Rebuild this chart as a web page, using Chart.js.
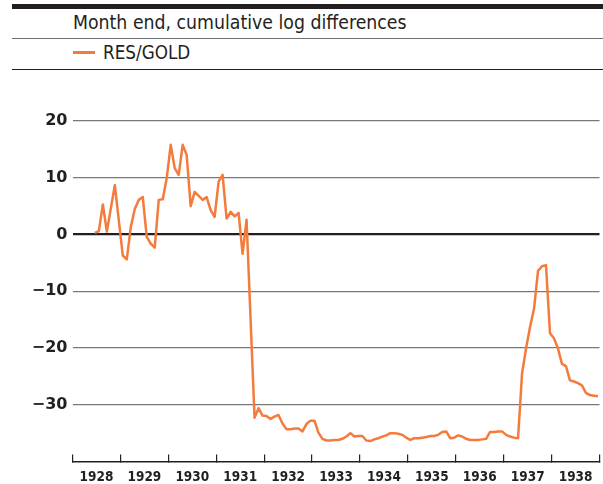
<!DOCTYPE html>
<html>
<head>
<meta charset="utf-8">
<script src="https://cdn.jsdelivr.net/npm/chart.js@4/dist/chart.umd.min.js"></script>
<style>
html, body { margin: 0; padding: 0; background: #fff; }
#wrap { position: relative; width: 603px; height: 484px; overflow: hidden;
  font-family: "DejaVu Sans Condensed", "Liberation Sans Narrow", "DejaVu Sans", sans-serif; color: #231f20; }
.bar { position: absolute; left: 12px; right: 0; top: 4px; height: 5px; background: #231f20; }
.rule1 { position: absolute; left: 12px; right: 0; top: 38px; height: 1px; background: #6d6e71; }
.rule2 { position: absolute; left: 12px; right: 0; top: 69px; height: 1px; background: #231f20; }
.title { position: absolute; left: 73px; top: 12px; font-size: 19.3px; line-height: 22px; white-space: nowrap; }
.swatch { position: absolute; left: 73px; top: 51px; width: 22px; height: 2.5px; background: #f47b3b; }
.legtext { position: absolute; left: 103px; top: 42px; font-size: 18.7px; line-height: 22px; white-space: nowrap; }
#chart { position: absolute; left: 0; top: 0; }
</style>
</head>
<body>
<div id="wrap">
  <div class="bar"></div>
  <div class="title">Month end, cumulative log differences</div>
  <div class="rule1"></div>
  <div class="swatch"></div>
  <div class="legtext">RES/GOLD</div>
  <div class="rule2"></div>
  <canvas id="chart" width="603" height="484"></canvas>
</div>
<script>
// monthly values, Jan..Dec (1928 starts in June); null = no reading
const startYear = 1928
const firstMonth1928 = 5
const res1928 = [0.3, 0.6, 5.3, 0.5, 4.6, 8.7, 2.5]
const res1929 = [-3.7, -4.4, 1.3, 4.5, 6.1, 6.6, -0.4, -1.6, -2.3, 6.1, 6.2, 9.9]
const res1930 = [15.8, 11.7, 10.5, 15.8, 14.0, 5.0, 7.5, 6.8, 6.1, 6.6, 4.3, 3.1]
const res1931 = [9.3, 10.5, 2.8, 4.0, 3.2, 3.8, -3.4, 2.6, null, -32.3, -30.6, -31.9]
const res1932 = [-32.0, -32.5, -32.1, -31.8, -33.3, -34.3, -34.3, -34.2, -34.2, -34.7, -33.4, -32.8]
const res1933 = [-32.8, -34.9, -36.0, -36.3, -36.3, -36.2, -36.2, -36.0, -35.6, -35.0, -35.6, -35.5]
const res1934 = [-35.5, -36.3, -36.4, -36.1, -35.9, -35.6, -35.4, -35.0, -35.0, -35.1, -35.3, -35.8]
const res1935 = [-36.2, -35.9, -35.9, -35.8, -35.7, -35.5, -35.5, -35.3, -34.8, -34.7, -35.9, -35.8]
const res1936 = [-35.4, -35.6, -36.0, -36.2, -36.2, -36.2, -36.1, -36.0, -34.8, -34.8, -34.7, -34.7]
const res1937 = [-35.3, -35.6, -35.8, -35.9, -24.5, -20.1, -16.3, -13.1, -6.4, -5.6, -5.4, -17.4]
const res1938 = [-18.3, -20.1, -22.8, -23.2, -25.7, -25.9, -26.2, -26.6, -27.9, -28.3, -28.4, -28.5]

const yearly = [res1928, res1929, res1930, res1931, res1932, res1933, res1934, res1935, res1936, res1937, res1938]
const yTicks = [20, 10, 0, -10, -20, -30]
const xMin = 1928
const xMax = 1939

let points = []
for (let i = 0; i < yearly.length; i++) {
    let first = i === 0 ? firstMonth1928 : 0
    for (let j = 0; j < yearly[i].length; j++) {
        points.push({ x: startYear + i + (first + j + 0.6) / 12, y: yearly[i][j] })
    }
}

const ink = '#231f20'

new Chart(document.getElementById('chart').getContext('2d'), {
    type: 'line',
    data: {
        datasets: [{
            label: 'RES/GOLD',
            data: points,
            borderColor: '#f47b3b',
            borderWidth: 2.5,
            pointRadius: 0,
            tension: 0,
            spanGaps: true,
            borderJoinStyle: 'round'
        }]
    },
    options: {
        responsive: false,
        animation: false,
        layout: { padding: { top: 121, right: 3.5, left: 0, bottom: 0 } },
        plugins: { legend: { display: false }, tooltip: { enabled: false } },
        scales: {
            x: {
                type: 'linear',
                min: xMin,
                max: xMax,
                afterFit: s => {
                    s.height = 22.5
                    s.paddingLeft = 0
                    s.paddingRight = 0
                },
                afterBuildTicks: s => {
                    let t = []
                    for (let v = xMin; v <= xMax; v++) t.push({ value: v })
                    s.ticks = t
                },
                ticks: {
                    callback: v => v < xMax ? String(v) : '',
                    labelOffset: 24,
                    padding: 15,
                    maxRotation: 0,
                    autoSkip: false,
                    color: ink,
                    font: { family: '"DejaVu Sans Condensed", "DejaVu Sans"', weight: 'bold', size: 13.5 }
                },
                grid: { drawOnChartArea: false, drawTicks: true, tickLength: -7, color: ink, lineWidth: 1.2 },
                border: { display: true, color: ink, width: 1.5 }
            },
            y: {
                min: -40,
                max: 20,
                afterFit: s => { s.width = 72.5 },
                afterBuildTicks: s => {
                    s.ticks = [-40].concat(yTicks.slice().reverse()).map(v => ({ value: v }))
                },
                ticks: {
                    callback: v => v === -40 ? '' : (v < 0 ? '\u2212' + (-v) : String(v)),
                    padding: 5,
                    color: ink,
                    font: { family: '"DejaVu Sans"', weight: 'bold', size: 16 }
                },
                grid: {
                    drawTicks: false,
                    color: c => c.tick.value === 0 ? ink : (c.tick.value === -40 ? 'rgba(0,0,0,0)' : '#77787b'),
                    lineWidth: c => c.tick.value === 0 ? 2.2 : 1.3
                },
                border: { display: false }
            }
        }
    }
})
</script>
</body>
</html>
